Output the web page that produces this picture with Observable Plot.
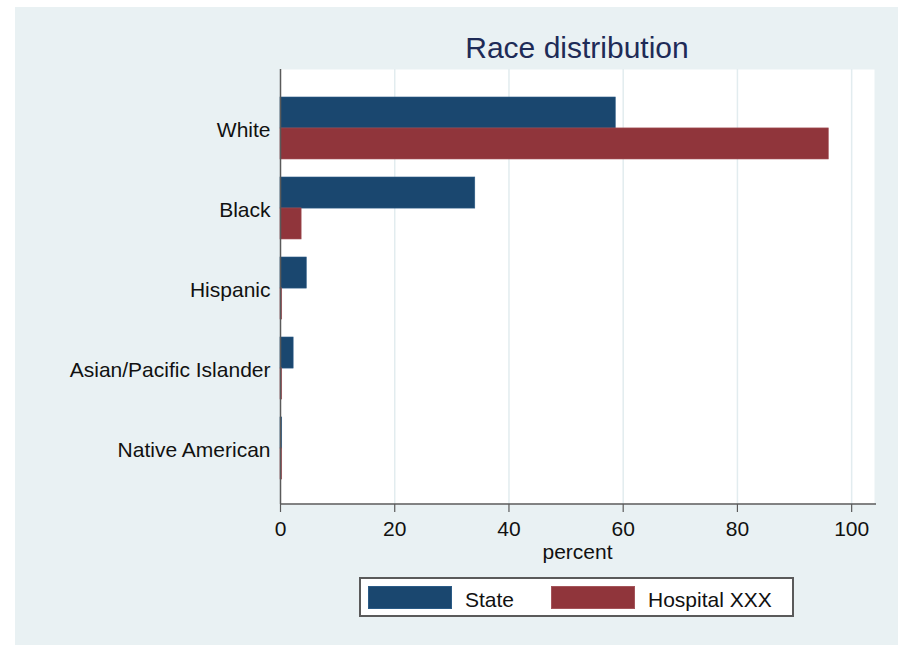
<!DOCTYPE html>
<html>
<head>
<meta charset="utf-8">
<script src="https://cdn.jsdelivr.net/npm/d3@7"></script>
<script src="https://cdn.jsdelivr.net/npm/@observablehq/plot@0.6"></script>
<style>
  html, body { margin: 0; padding: 0; background: #ffffff; }
  body { width: 898px; height: 645px; overflow: hidden; position: relative; font-family: "Liberation Sans", Arial, Helvetica, sans-serif; }
  #panel { position: absolute; left: 15px; top: 7px; width: 883px; height: 638px; background: #e9f1f3; }
  #title { position: absolute; left: 265px; width: 594px; top: 24px; line-height: 34px; font-size: 30px; text-align: center; color: #1e2b57; white-space: nowrap; }
  #chart { position: absolute; left: 0; top: 55px; }
  #legend { position: absolute; left: 344px; top: 570px; width: 435px; height: 40px; box-sizing: border-box; border: 2px solid #5a5a5a; background: #ffffff; }
  #legend .sw { position: absolute; top: 7px; width: 84px; height: 23px; box-sizing: border-box; }
  #legend .lb { position: absolute; top: 9px; font-size: 21px; line-height: 23px; color: #111; white-space: nowrap; }
</style>
</head>
<body>
<div id="panel">
  <div id="title">Race distribution</div>
  <div id="chart"></div>
  <div id="legend"></div>
</div>
<script>
// ---- data ----
const categories = ["White", "Black", "Hispanic", "Asian/Pacific Islander", "Native American"];
const stateValues = [58.7, 34.1, 4.6, 2.3, 0.3];
const hospitalValues = [96.0, 3.7, 0.3, 0.3, 0.3];
const seriesNames = ["State", "Hospital XXX"];
const seriesColors = ["#1a476f", "#90353b"];
const xTicks = [0, 20, 40, 60, 80, 100];

// ---- layout ----
const width = 883, height = 505;
const marginLeft = 265, marginRight = 24, marginTop = 7, marginBottom = 63;
const paddingInner = 0.228, paddingOuter = 0.33, align = 0.52;
const plotH = height - marginTop - marginBottom;
const step = plotH / (categories.length - paddingInner + 2 * paddingOuter);
const bw = step * (1 - paddingInner);

const stateRows = categories.map((c, i) => ({category: c, value: stateValues[i]}));
const hospRows = categories.map((c, i) => ({category: c, value: hospitalValues[i]}));

const bottomLine = (index, scales, values, dims) => {
  const y = dims.height - dims.marginBottom;
  return d3.create("svg:line")
    .attr("x1", dims.marginLeft)
    .attr("x2", dims.width - dims.marginRight + 2)
    .attr("y1", y).attr("y2", y)
    .attr("stroke", "#5a5a5a")
    .attr("stroke-width", 1.5)
    .node();
};

const chart = Plot.plot({
  width, height, marginLeft, marginRight, marginTop, marginBottom,
  style: {background: "transparent", fontFamily: "'Liberation Sans', Arial, Helvetica, sans-serif", fontSize: "21px", color: "#111", overflow: "visible"},
  x: {domain: [0, 104], label: null},
  y: {domain: categories, paddingInner, paddingOuter, align, label: null},
  marks: [
    Plot.frame({fill: "#ffffff", stroke: "none"}),
    Plot.ruleX(xTicks.filter(d => d > 0), {stroke: "#e2ecef", strokeWidth: 1.5}),
    Plot.barX(stateRows, {x: "value", y: "category", fill: seriesColors[0], stroke: "#2b5b86", strokeWidth: 0.6, insetBottom: bw / 2}),
    Plot.barX(hospRows, {x: "value", y: "category", fill: seriesColors[1], stroke: "#a4545a", strokeWidth: 0.6, insetTop: bw / 2}),
    Plot.ruleX([0], {stroke: "#5a5a5a", strokeWidth: 1.5}),
    bottomLine,
    Plot.axisX({ticks: xTicks, tickSize: 8, tickPadding: 9, label: null, fontSize: 21, stroke: "#5a5a5a", strokeWidth: 1.2, fill: "#111"}),
    Plot.axisY({tickSize: 0, tickPadding: 10, label: null, fontSize: 21, fill: "#111", dy: 2}),
    Plot.text(["percent"], {frameAnchor: "bottom", dy: 54, fontSize: 21, fill: "#111"})
  ]
});
document.getElementById("chart").appendChild(chart);

// ---- legend ----
const legend = document.getElementById("legend");
const swLeft = [7, 190], lbLeft = [104, 287];
seriesNames.forEach((name, i) => {
  const sw = document.createElement("div");
  sw.className = "sw";
  sw.style.left = swLeft[i] + "px";
  sw.style.background = seriesColors[i];
  sw.style.border = "1px solid " + (i === 0 ? "#2b5b86" : "#a4545a");
  legend.appendChild(sw);
  const lb = document.createElement("div");
  lb.className = "lb";
  lb.style.left = lbLeft[i] + "px";
  lb.textContent = name;
  legend.appendChild(lb);
});
</script>
</body>
</html>
